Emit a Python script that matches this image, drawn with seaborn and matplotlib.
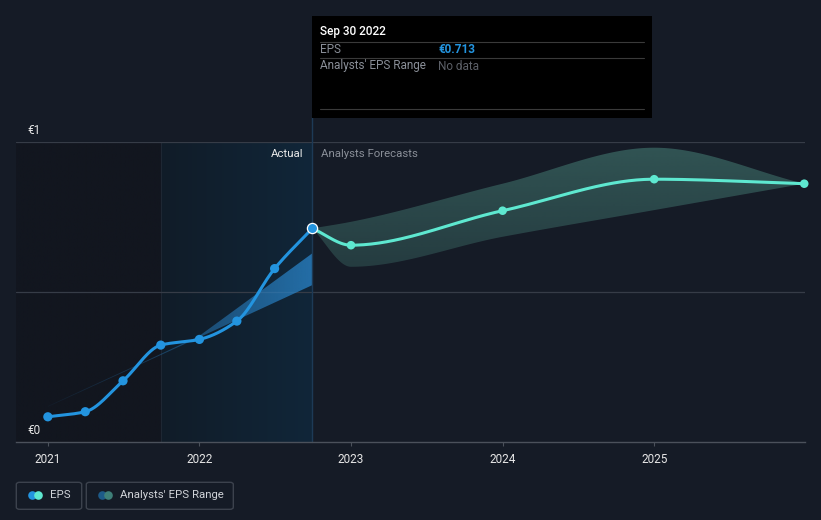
import numpy as np
import pandas as pd
import matplotlib
matplotlib.use("Agg")
import matplotlib.pyplot as plt
import seaborn as sns
from matplotlib.colors import to_rgb
from matplotlib.lines import Line2D
from matplotlib.patches import FancyBboxPatch, Rectangle, Polygon

# ---------------- data ----------------
actual_x = [2021.0, 2021.247, 2021.496, 2021.745, 2022.0, 2022.247, 2022.496, 2022.745]
actual_eps = [0.085, 0.102, 0.205, 0.324, 0.343, 0.404, 0.579, 0.713]

fc_x = [2022.745, 2023.0, 2024.0, 2025.0, 2025.99]
fc_eps = [0.713, 0.657, 0.772, 0.877, 0.862]
fc_low = [0.713, 0.585, 0.685, 0.774, 0.862]
fc_high = [0.713, 0.735, 0.862, 0.982, 0.862]

past_range_x = [2021.0, 2022.0, 2022.745]
past_low = [0.118, 0.350, 0.524]
past_high = [0.118, 0.355, 0.630]

year_ticks = [2021, 2022, 2023, 2024, 2025]
y_labels = {0.0: "€0", 1.0: "€1"}

# ---------------- style ----------------
BG = "#151b26"
BLUE = "#2394df"
TEAL = "#5ee8d0"
W, H = 821, 520

sns.set_theme(style="dark", rc={"axes.facecolor": BG, "figure.facecolor": BG})
plt.rcParams["font.family"] = ["Roboto", "DejaVu Sans"]


def pchip(x, y, n=60):
    x = np.asarray(x, float)
    y = np.asarray(y, float)
    h = np.diff(x)
    d = np.diff(y) / h
    m = np.zeros_like(y)
    m[0], m[-1] = d[0], d[-1]
    for i in range(1, len(y) - 1):
        if d[i - 1] * d[i] <= 0:
            m[i] = 0
        else:
            w1 = 2 * h[i] + h[i - 1]
            w2 = h[i] + 2 * h[i - 1]
            m[i] = (w1 + w2) / (w1 / d[i - 1] + w2 / d[i])
    xs, ys = [], []
    for i in range(len(h)):
        t = np.linspace(0, 1, n, endpoint=(i == len(h) - 1))
        h00 = 2 * t**3 - 3 * t**2 + 1
        h10 = t**3 - 2 * t**2 + t
        h01 = -2 * t**3 + 3 * t**2
        h11 = t**3 - t**2
        xs.append(x[i] + t * h[i])
        ys.append(h00 * y[i] + h10 * h[i] * m[i] + h01 * y[i + 1] + h11 * h[i] * m[i + 1])
    return np.concatenate(xs), np.concatenate(ys)


def grad_fill(ax, xs, lo, hi, color, a0, a1, direction="h", z=1):
    xs = np.asarray(xs); lo = np.asarray(lo); hi = np.asarray(hi)
    poly = Polygon(np.column_stack([np.r_[xs, xs[::-1]], np.r_[hi, lo[::-1]]]),
                   closed=True, facecolor="none", edgecolor="none")
    ax.add_patch(poly)
    if direction == "h":
        a = np.linspace(a0, a1, 256)[None, :]
    else:
        a = np.linspace(a0, a1, 256)[:, None]
    img = np.zeros(a.shape + (4,))
    img[..., :3] = to_rgb(color)
    img[..., 3] = a
    im = ax.imshow(img, extent=[xs.min(), xs.max(), lo.min(), hi.max()], origin="lower",
                   aspect="auto", interpolation="bilinear", zorder=z)
    im.set_clip_path(poly)


def rgb_grad(ax, x0, x1, c0, c1, z=0):
    c0 = np.array(c0) / 255.0
    c1 = np.array(c1) / 255.0
    t = np.linspace(0, 1, 256)[None, :, None]
    img = c0[None, None, :] * (1 - t) + c1[None, None, :] * t
    ax.imshow(img, extent=[x0, x1, 0, 1], origin="lower", aspect="auto",
              interpolation="bilinear", zorder=z)


fig = plt.figure(figsize=(W / 100, H / 100), dpi=100)
fig.patch.set_facecolor(BG)
ax = fig.add_axes([16 / W, (H - 442.3) / H, (805 - 16) / W, 300 / H])
ax.set_facecolor(BG)

XL = (2020.79, 2025.995)

# shaded background regions
rgb_grad(ax, XL[0], 2021.745, (18, 22, 31), (18, 22, 31), z=0)
rgb_grad(ax, 2021.745, 2022.745, (17, 28, 40), (16, 38, 57), z=0)
ax.axvline(2021.745, color="#1e2733", lw=0.8, zorder=0.5)

# grid lines
for gy in [0.5, 1.0]:
    ax.axhline(gy, color="#363c47", lw=0.9, zorder=0.6)

# past analysts range (faded wedge)
px = np.linspace(past_range_x[0], past_range_x[-1], 200)
plo = np.interp(px, past_range_x, past_low)
phi = np.interp(px, past_range_x, past_high)
phi = np.maximum(phi, plo + 0.003)
grad_fill(ax, px, plo, phi, "#2a86cc", 0.05, 0.75, direction="h", z=1)

# forecast range band
fx_s, fhi_s = pchip(fc_x, fc_high)
_, flo_s = pchip(fc_x, fc_low)
grad_fill(ax, fx_s, flo_s, fhi_s, "#4b897e", 0.30, 0.52, direction="v", z=1)

# lines
ax_s, ay_s = pchip(actual_x, actual_eps)
sns.lineplot(x=ax_s, y=ay_s, ax=ax, color=BLUE, lw=2.2, zorder=3, sort=False)
fxs, fys = pchip(fc_x, fc_eps)
sns.lineplot(x=fxs, y=fys, ax=ax, color=TEAL, lw=2.2, zorder=3, sort=False)

# markers
sns.scatterplot(x=actual_x[:-1], y=actual_eps[:-1], ax=ax, color=BLUE, s=44,
                edgecolor="none", zorder=4, clip_on=False)
sns.scatterplot(x=fc_x[1:], y=fc_eps[1:], ax=ax, color=TEAL, s=38,
                edgecolor="none", zorder=4, clip_on=False)
sns.scatterplot(x=actual_x[-1:], y=actual_eps[-1:], ax=ax, color=BLUE, s=54,
                edgecolor="white", linewidth=0.9, zorder=5, clip_on=False)

# vertical "now" line
ax.axvline(2022.745, ymin=0, ymax=(442.3 - 117) / 300, color="#1d3a56", lw=1.0,
           zorder=2, clip_on=False)

ax.set_xlim(*XL)
ax.set_ylim(0, 1)
ax.set_xticks(year_ticks)
ax.set_xticklabels([str(y) for y in year_ticks], color="#e6e6e6", fontsize=8.5)
ax.set_yticks([])
ax.tick_params(axis="x", length=3, width=0.8, color="#4b515b", pad=5, bottom=True)
for s in ["top", "right", "left"]:
    ax.spines[s].set_visible(False)
ax.spines["bottom"].set_color("#4b515b")
ax.spines["bottom"].set_linewidth(1.0)
ax.set_xlabel("")
ax.set_ylabel("")
ax.grid(False)

# y labels
for val, lab in y_labels.items():
    ax.annotate(lab, xy=(0, val), xycoords=("axes fraction", "data"),
                xytext=(8, 4), textcoords="offset points", ha="left", va="bottom",
                color="#e6e6e6", fontsize=8.5, zorder=6)

# Actual / forecast labels (figure pixel positions)
def fxp(p):
    return p / W


def fyp(p):
    return 1 - p / H


fig.text(fxp(303), fyp(154), "Actual", ha="right", va="center", color="#e8e8e8",
         fontsize=8.2, zorder=6)
fig.text(fxp(320.5), fyp(154), "Analysts Forecasts", ha="left", va="center",
         color="#8a8f98", fontsize=8.2, zorder=6)

# tooltip
fig.patches.append(Rectangle((fxp(312), fyp(117.7)), (652 - 312) / W, (117.7 - 15.7) / H,
                             transform=fig.transFigure, facecolor="#000000",
                             edgecolor="none", zorder=10))
for ly in [41.7, 58.3, 109.3]:
    fig.add_artist(Line2D([fxp(320), fxp(644)], [fyp(ly), fyp(ly)], color="#3a3a3a",
                          lw=0.8, transform=fig.transFigure, zorder=11))
fig.text(fxp(320), fyp(31), "Sep 30 2022", color="#ffffff", fontsize=8.5,
         fontweight="medium", va="center", ha="left", zorder=12)
fig.text(fxp(320), fyp(49.5), "EPS", color="#8a8f98", fontsize=8.5, va="center", zorder=12)
fig.text(fxp(438), fyp(49.5), "€0.713", color=BLUE, fontsize=8.5, fontweight="bold",
         va="center", zorder=12)
fig.text(fxp(320), fyp(66), "Analysts' EPS Range", color="#8a8f98", fontsize=8.5,
         va="center", zorder=12)
fig.text(fxp(438), fyp(66), "No data", color="#5c6068", fontsize=8.5, va="center", zorder=12)

# legend
for (x0, x1) in [(16.3, 81.7), (86.3, 233.3)]:
    fig.patches.append(FancyBboxPatch((fxp(x0), fyp(509.3)), (x1 - x0) / W, 27 / H,
                                      boxstyle="round,pad=0,rounding_size=0.004",
                                      transform=fig.transFigure, facecolor="none",
                                      edgecolor="#3c424d", lw=1.0, zorder=10))
legend_items = [("EPS", BLUE, TEAL, 32, 50), ("Analysts' EPS Range", "#1d5a88", "#3e7f78", 101.5, 120.3)]
for lab, c1, c2, cx, tx in legend_items:
    fig.add_artist(Line2D([fxp(cx)], [fyp(494.5)], marker="o", ms=6.2, color=c1, mec="none",
                          transform=fig.transFigure, zorder=11))
    fig.add_artist(Line2D([fxp(cx + 6.3)], [fyp(494.5)], marker="o", ms=6.2, color=c2, mec="none",
                          transform=fig.transFigure, zorder=12))
    fig.text(fxp(tx), fyp(494.5), lab, color="#d0d3d8", fontsize=8.2, va="center",
             ha="left", zorder=12)

fig.savefig("out.png", dpi=100, facecolor=BG)
